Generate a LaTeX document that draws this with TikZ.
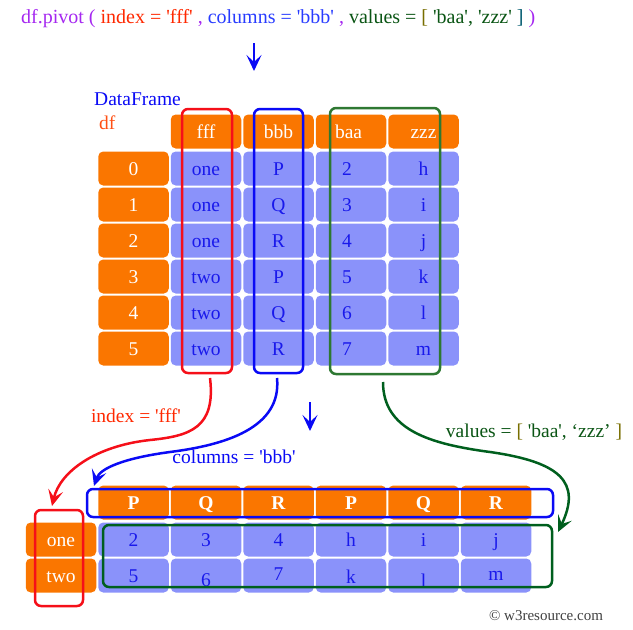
\documentclass[tikz,border=0pt]{standalone}
\usepackage{fontspec}
\setmainfont{Liberation Serif}[Ligatures=TeXOff]
\usetikzlibrary{arrows.meta,positioning}

\definecolor{dforange}{RGB}{250,118,0}
\definecolor{dflav}{RGB}{138,146,250}
\definecolor{dftext}{RGB}{25,25,235}
\definecolor{redline}{RGB}{245,15,25}
\definecolor{blueline}{RGB}{10,10,245}
\definecolor{greenbox}{RGB}{46,120,50}
\definecolor{greenline}{RGB}{0,95,30}
\definecolor{ttpurple}{RGB}{165,40,240}
\definecolor{ttred}{RGB}{255,40,0}
\definecolor{ttblue}{RGB}{40,60,255}
\definecolor{ttgreen}{RGB}{10,85,20}
\definecolor{ttolive}{RGB}{120,110,0}
\definecolor{ttteal}{RGB}{0,90,110}
\definecolor{dfred}{RGB}{255,80,20}

\begin{document}
\begin{tikzpicture}
[x=1pt,y=-1pt,
%
cell/.style={shape=rectangle,rounded corners=5pt,inner sep=0pt,minimum width=70.5pt,minimum height=34pt,text height=16pt,text depth=2pt,font=\fontsize{19.5}{22}\selectfont},
hcell/.style={cell,fill=dforange,text=white},
dcell/.style={cell,fill=dflav,text=dftext},
baacol/.style={text width=#1,align=left},
%
selbox/.style={shape=rectangle,rounded corners=6pt,line width=2.5pt,inner sep=0pt},
link/.style={line width=2.5pt,-{Stealth[length=16pt,width=15pt,inset=7pt]}},
lbl/.style={inner sep=0pt,font=\fontsize{19.5}{22}\selectfont}]
%
\useasboundingbox (0,0) rectangle (633,630);
%
% call
\node (call) [lbl,anchor=west,font=\fontsize{20}{22}\selectfont] at (21,19) {\textcolor{ttpurple}{df.pivot (} \textcolor{ttred}{index = 'fff'} \textcolor{ttpurple}{,} \textcolor{ttblue}{columns = 'bbb'} \textcolor{ttpurple}{,} \textcolor{ttgreen}{values =} \textcolor{ttolive}{[} \textcolor{ttgreen}{'baa', 'zzz'} \textcolor{ttteal}{]} \textcolor{ttpurple}{)}};
\coordinate (down1a) at (254,43);
\coordinate (down1b) at (254,71);
\draw[link,draw=blueline] (down1a) -- (down1b);
%
% source frame
\node (dfname) [lbl,anchor=west,text=blueline] at (94,99) {DataFrame};
\node (dfvar) [lbl,anchor=west,text=dfred] at (99,123) {df};
\node (hfff) [hcell] at (206,131.5) {fff};
\node (hbbb) [hcell] at (278.5,131.5) {bbb};
\node (hbaa) [hcell,baacol=32pt] at (351,131.5) {baa};
\node (hzzz) [hcell] at (423.5,131.5) {zzz};
\foreach \i/\f/\b/\v/\z in {0/one/P/2/h,1/one/Q/3/i,2/one/R/4/j,3/two/P/5/k,4/two/Q/6/l,5/two/R/7/m}
{
   \node (r\i) [hcell] at (133.5,{168.5+36*\i}) {\i};
   \node (fff\i) [dcell] at (206,{168.5+36*\i}) {\f};
   \node (bbb\i) [dcell] at (278.5,{168.5+36*\i}) {\b};
   \node (baa\i) [dcell,baacol=18pt] at (351,{168.5+36*\i}) {\v};
   \node (zzz\i) [dcell] at (423.5,{168.5+36*\i}) {\z};
}
%%
% column boxes
\node (fffbox) [selbox,draw=redline,minimum width=50pt,minimum height=264pt] at (207,241) {};
\node (bbbbox) [selbox,draw=blueline,minimum width=49pt,minimum height=264pt] at (278.5,241) {};
\node (valbox) [selbox,draw=greenbox,minimum width=110pt,minimum height=266pt] at (385,241) {};
%
\coordinate (down2a) at (310,402);
\coordinate (down2b) at (310,431);
\draw[link,draw=blueline] (down2a) -- (down2b);
%
% result frame
\foreach \c/\t in {1/P,2/Q,3/R,4/P,5/Q,6/R}
   \node (col\c) [hcell,font=\fontsize{19.5}{22}\selectfont\bfseries] at ({61+72.5*\c},502.5) {\t};
\node (rone) [hcell] at (61,539.5) {one};
\node (rtwo) [hcell] at (61,575.5) {two};
\foreach \c/\t in {1/2,2/3,3/4,4/h,5/i,6/j}
   \node (one\c) [dcell] at ({61+72.5*\c},539.5) {\t};
\foreach \c/\t/\s in {1/5/0,2/6/4,3/7/-2,4/k/1,5/l/5,6/m/-2}
   \node (two\c) [dcell] at ({61+72.5*\c},575.5) {\raisebox{-\s pt}{\t}};
%%
% result boxes
\node (colbox) [selbox,draw=blueline,minimum width=466pt,minimum height=28pt] at (320,503) {};
\node (outbox) [selbox,draw=greenline,minimum width=449pt,minimum height=62pt] at (327.5,556) {};
\node (idxbox) [selbox,draw=redline,minimum width=48pt,minimum height=96pt] at (59,558) {};
%%
% links
\coordinate (idxfrom) at (210,378);
\coordinate (idxto) at (52,506);
\draw[link,draw=redline] (idxfrom) .. controls (216,428) and (190,436) .. (150,440) .. controls (95,446) and (60,472) .. (idxto);
\coordinate (colfrom) at (277,378);
\coordinate (colto) at (94,486);
\draw[link,draw=blueline] (colfrom) .. controls (282,428) and (225,445) .. (170,452) .. controls (125,458) and (100,468) .. (colto);
\coordinate (valfrom) at (383,382);
\coordinate (valto) at (558,532);
\draw[link,draw=greenline] (valfrom) .. controls (383,430) and (430,444) .. (490,452) .. controls (560,462) and (582,482) .. (valto);
%%
% labels
\node (idxlab) [lbl,text=ttred] at (136,416) {index = 'fff'};
\node (collab) [lbl,text=blueline] at (234,457) {columns = 'bbb'};
\node (vallab) [lbl,text=ttgreen] at (534,432) {values = \textcolor{ttolive}{[} 'baa', ‘zzz’ \textcolor{ttolive}{]}};
\node (credit) [lbl,text=black!75,font=\fontsize{15}{17}\selectfont] at (546,616) {© w3resource.com};
\end{tikzpicture}
\end{document}
